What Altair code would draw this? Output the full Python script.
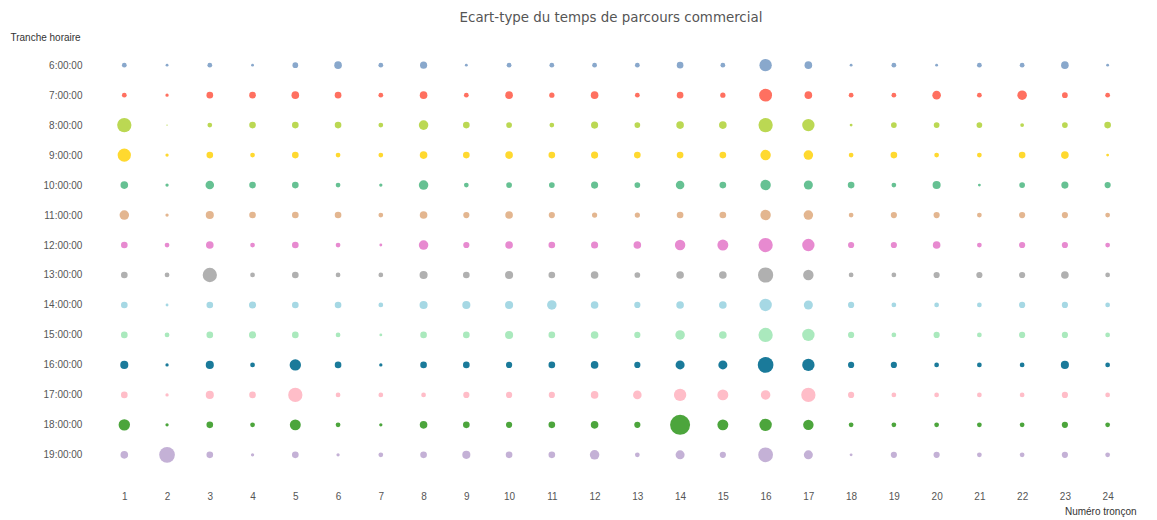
import altair as alt
import pandas as pd

hours = ["6:00:00", "7:00:00", "8:00:00", "9:00:00", "10:00:00", "11:00:00", "12:00:00",
         "13:00:00", "14:00:00", "15:00:00", "16:00:00", "17:00:00", "18:00:00", "19:00:00"]
troncons = list(range(1, 25))

colors = ["#89a8cc", "#ff7060", "#bbd853", "#ffd92f", "#66c193", "#e3b690", "#e78ad0",
          "#b0b0b0", "#a6d8e4", "#aae9bd", "#1a7a9a", "#ffbdc8", "#4ca53c", "#c4b1d6"]

# estimated standard deviation (relative units) per hour slot, troncon 1..24
h06 = [5, 3, 5, 3, 6, 8, 5, 7.5, 3, 5, 5, 5, 5, 7, 5, 13, 8, 3, 5, 3, 5, 5, 8, 3]
h07 = [5, 3.5, 7, 7, 8, 7, 5, 8, 5, 8, 5.5, 8, 5, 7, 5.5, 13.5, 8, 5, 5, 9, 5, 10, 6, 5]
h08 = [15, 1.5, 5, 7, 7, 7, 5, 10, 7, 6, 5, 7.5, 6, 8, 8, 15, 13, 3, 6, 6, 6, 4, 6, 7]
h09 = [14, 3.5, 7, 5, 7, 5, 5, 8, 7, 8, 7, 7.5, 7, 7, 7, 11, 10, 5, 7, 5, 5, 7, 8, 3]
h10 = [8, 3.5, 9, 7, 7, 5, 3.5, 10, 5, 6, 6, 7.5, 6, 9, 7, 11, 9.5, 7, 5, 8.5, 3, 6, 7.5, 6.5]
h11 = [10, 3.5, 8.5, 7, 7, 7, 5, 8, 6.5, 8, 6.5, 5.5, 5.5, 7, 7, 11, 10, 5, 6.5, 6.5, 5, 6.5, 6.5, 5]
h12 = [7, 5, 8, 5, 7, 5, 3, 10, 6.5, 8, 7, 7.5, 8, 11, 11.5, 15, 13, 6.5, 6.5, 8, 5, 6.5, 6.5, 5]
h13 = [7, 5, 15, 5, 7, 5, 5, 8.5, 7, 8.5, 7, 8, 6, 8, 8, 16, 11, 5, 5, 6.5, 6.5, 6.5, 8, 5]
h14 = [7, 3, 7, 7.5, 7, 7, 5, 8.5, 8.5, 8.5, 10, 8, 6.5, 8, 8, 13, 9.5, 6.5, 5, 5, 5, 6.5, 6.5, 5]
h15 = [7, 5, 7, 7.5, 7, 5, 3, 7, 7, 8.5, 7, 8, 6.5, 10, 8, 15, 13, 6.5, 5, 6.5, 5, 6.5, 6.5, 5]
h16 = [8.5, 3.5, 8.5, 5, 12, 7, 3.5, 7, 7, 6.5, 7, 8, 6.5, 9.5, 9.5, 16.5, 13, 6.5, 6.5, 5, 5, 5, 8.5, 5]
h17 = [7, 3.5, 8.5, 7, 15, 5, 5, 5, 6.5, 6.5, 6.5, 8, 9, 13, 11.5, 10, 15, 6.5, 5, 5, 5, 5, 6.5, 5]
h18 = [12, 3.5, 7, 5, 11.5, 5, 3.5, 8, 7, 6.5, 7, 8, 6.5, 21, 11.5, 13, 11, 5, 5, 5, 5, 5, 6.5, 5]
h19 = [8, 16.5, 7, 3.5, 7, 3.5, 5, 7, 8.5, 7, 7, 10, 5, 9.5, 6.5, 15.5, 9.5, 3, 6.5, 6.5, 5, 5, 6.5, 5]

series = [h06, h07, h08, h09, h10, h11, h12, h13, h14, h15, h16, h17, h18, h19]

rows = []
for h, vals in zip(hours, series):
    for t, v in zip(troncons, vals):
        rows.append({"tranche": h, "troncon": t, "ecart": v})
df = pd.DataFrame(rows)

label_font = "Liberation Sans"
grey = "#555555"

chart = alt.Chart(df).mark_circle(opacity=1).encode(
    x=alt.X("troncon:O", sort=troncons,
            scale=alt.Scale(type="point", padding=0.5),
            axis=alt.Axis(title="Numéro tronçon", labelAngle=0, labelPadding=22,
                          titleX=1034, titleY=37, titleAlign="right",
                          titleBaseline="top", titleFontWeight="normal")),
    y=alt.Y("tranche:O", sort=hours,
            scale=alt.Scale(type="point", padding=0.5),
            axis=alt.Axis(title="Tranche horaire", titleAngle=0, labelPadding=21,
                          titleX=-93, titleY=-10, titleAlign="left", titleBaseline="alphabetic",
                          titleFontWeight="normal")),
    size=alt.Size("ecart:Q", scale=alt.Scale(type="pow", exponent=2, domain=[0, 21], range=[0, 400]),
                  legend=None),
    color=alt.Color("tranche:N", sort=hours, scale=alt.Scale(domain=hours, range=colors), legend=None),
).properties(
    width=1027,
    height=420,
    title=alt.TitleParams("Ecart-type du temps de parcours commercial", fontSize=13.4,
                          font="DejaVu Sans", fontWeight="normal", color=grey,
                          anchor="middle", offset=8, dx=-5),
    autosize=alt.AutoSizeParams(type="none"),
    padding={"left": 95, "top": 42, "right": 20, "bottom": 52},
).configure_view(stroke=None).configure_axis(
    domain=False, ticks=False, grid=False,
    labelFont=label_font, labelFontSize=10, labelColor=grey,
    titleFont=label_font, titleFontSize=10, titleColor="#333333",
)

chart.save("out.html", embed_options={"renderer": "svg", "actions": False})
